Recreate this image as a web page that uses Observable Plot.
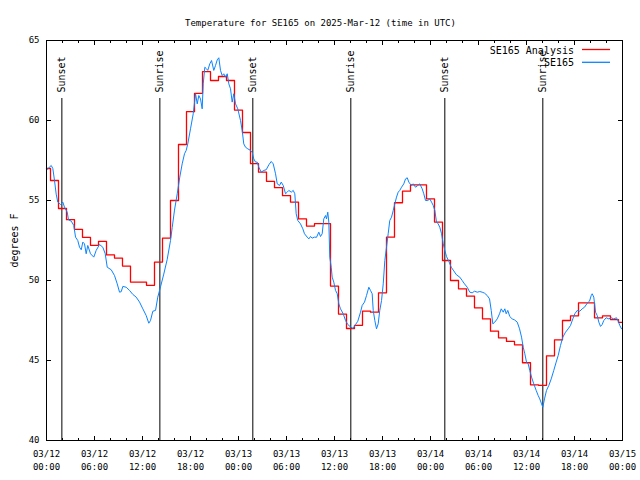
<!DOCTYPE html>
<html><head><meta charset="utf-8">
<script src="https://cdn.jsdelivr.net/npm/d3@7"></script>
<script src="https://cdn.jsdelivr.net/npm/@observablehq/plot@0.6"></script>
<style>body{margin:0;background:#fff} #chart{width:640px;height:480px}</style>
</head><body><div id="chart"></div>
<script>
const title = "Temperature for SE165 on 2025-Mar-12 (time in UTC)";
const yLabel = "degrees F";
const seriesNames = ["SE165 Analysis", "SE165"];
const seriesColors = ["#ff0000", "#0a84ff"];
const startUTC = Date.UTC(2025, 2, 12, 0, 0);
const spanHours = 72;
const yTicks = [40, 45, 50, 55, 60, 65];
const majorTickHours = [0, 6, 12, 18, 24, 30, 36, 42, 48, 54, 60, 66, 72];
const minorTickHours = [2, 4, 8, 10, 14, 16, 20, 22, 26, 28, 32, 34, 38, 40, 44, 46, 50, 52, 56, 58, 62, 64, 68, 70];

const sunLabels = ["Sunset", "Sunrise", "Sunset", "Sunrise", "Sunset", "Sunrise"];
const sunHours = [1.92, 14.17, 25.79, 38.04, 49.79, 62.04];

// Hourly analysis (step) values, 03/12 00:00 .. 03/15 00:00
const analysisTemps = [57.0, 56.25, 54.5, 53.8, 53.2, 52.7, 52.2, 52.45, 51.6, 51.4,
  50.9, 49.9, 49.9, 49.7, 51.15, 52.65, 55.0, 58.5, 60.55, 61.7,
  63.05, 62.5, 62.75, 62.5, 60.65, 59.25, 57.3, 56.77, 56.2, 55.8,
  55.3, 54.9, 53.85, 53.4, 53.55, 53.55, 49.65, 47.9, 47.0, 47.2,
  48.08, 48.02, 49.23, 52.71, 54.86, 55.58, 55.98, 55.98, 55.1, 53.65,
  51.25, 50.0, 49.48, 49.02, 48.29, 47.6, 46.83, 46.42, 46.19, 45.98,
  44.86, 43.48, 43.45, 45.29, 46.29, 47.5, 47.79, 48.6, 48.6, 47.67,
  47.79, 47.56, 47.38];

// Observations: hours since 03/12 00:00 UTC and temperature
const obsHours = [0.0,0.59,0.79,1.0,1.21,1.41,1.75,2.04,2.25,2.59,2.75,3.09,3.41,3.63,3.91,4.13,4.34,4.54,4.75,4.96,5.16,5.5,5.91,6.21,6.63,7.04,7.34,7.59,8.09,8.5,8.84,9.13,9.34,9.54,9.96,10.38,10.79,11.21,11.63,12.04,12.46,12.79,13.0,13.29,13.63,13.91,14.25,14.66,15.08,15.5,15.71,16.0,16.34,16.66,16.96,17.25,17.46,17.66,18.0,18.34,18.63,18.84,19.04,19.25,19.46,19.59,19.79,20.0,20.16,20.41,20.63,20.91,21.13,21.34,21.54,21.75,21.96,22.16,22.38,22.59,22.79,23.0,23.21,23.41,23.63,23.91,24.25,24.46,24.66,24.88,25.16,25.5,25.71,25.91,26.13,26.34,26.54,26.84,27.16,27.46,27.79,28.09,28.34,28.63,28.84,29.13,29.34,29.59,29.88,30.09,30.29,30.59,30.84,31.04,31.21,31.41,31.75,32.04,32.25,32.59,32.79,33.0,33.21,33.5,33.75,34.04,34.25,34.46,34.66,34.88,35.0,35.16,35.29,35.41,35.59,35.71,35.91,36.13,36.34,36.54,36.75,37.09,37.38,37.66,38.0,38.31,38.63,38.91,39.25,39.46,39.75,40.0,40.29,40.5,40.71,40.84,41.04,41.25,41.46,41.66,41.88,42.09,42.29,42.5,42.71,42.91,43.13,43.34,43.54,43.75,43.96,44.16,44.38,44.66,44.88,45.09,45.29,45.59,45.84,46.13,46.41,46.66,46.96,47.16,47.38,47.66,47.91,48.13,48.34,48.54,48.75,48.96,49.16,49.38,49.59,49.79,50.0,50.29,50.59,50.91,51.25,51.66,51.96,52.25,52.59,52.91,53.21,53.5,53.84,54.16,54.46,54.75,55.09,55.38,55.59,55.79,56.04,56.34,56.63,56.84,57.09,57.29,57.46,57.66,57.91,58.21,58.5,58.84,59.13,59.38,59.59,59.79,60.0,60.21,60.41,60.63,60.91,61.21,61.46,61.66,61.88,62.04,62.25,62.5,62.79,63.09,63.41,63.71,63.96,64.25,64.54,64.88,65.21,65.5,65.79,66.04,66.34,66.66,66.96,67.25,67.59,67.88,68.09,68.21,68.41,68.63,68.84,69.04,69.25,69.46,69.66,69.96,70.29,70.59,70.91,71.25,71.46,71.66,71.88];
const obsTemps = [56.9,57.19,57.0,56.25,55.4,54.9,54.75,54.9,54.58,54.27,53.79,53.71,53.44,52.71,52.5,52.08,51.92,52.4,52.29,51.67,52.19,51.67,51.46,51.88,52.25,52.08,51.67,50.83,50.67,50.31,49.79,49.27,49.3,49.63,49.58,49.38,49.13,48.96,48.65,48.23,47.81,47.33,47.5,48.08,48.13,48.96,49.6,50.4,51.3,52.5,53.3,54.4,55.42,56.46,57.29,57.92,58.13,58.54,59.48,60.42,61.67,61.04,61.56,61.35,60.73,62.29,63.33,63.23,63.13,63.54,63.75,63.13,63.44,63.79,63.92,63.13,62.81,62.92,62.71,62.92,62.29,61.98,61.15,61.67,61.04,60.73,60.0,59.38,58.54,58.33,58.23,58.13,58.0,57.6,57.4,57.4,57.08,56.77,56.88,56.92,57.23,57.44,57.29,56.67,56.04,55.94,56.15,55.94,55.42,55.52,55.63,55.52,55.63,55.42,54.17,53.75,53.54,53.23,52.92,52.71,52.6,52.75,52.65,52.71,52.7,53.02,52.75,52.92,53.85,54.06,53.85,54.27,53.65,51.46,50.83,50.21,49.9,49.38,49.17,48.54,48.23,47.92,47.5,47.25,47.1,47.0,47.25,47.45,48.02,48.44,48.65,49.06,49.58,49.38,49.17,48.13,47.5,46.98,47.29,48.13,48.75,49.79,51.25,52.08,52.92,53.75,53.96,54.38,54.79,55.21,55.52,55.63,55.83,56.04,56.35,56.42,56.15,55.94,56.04,55.83,55.94,56.04,55.73,55.42,55.0,55.0,55.1,54.9,54.69,54.38,53.65,53.54,53.33,52.92,52.29,51.88,51.5,51.2,50.83,50.6,50.35,50.21,50.0,49.79,49.58,49.27,49.23,49.33,49.27,49.31,49.27,49.21,49.06,48.85,48.13,47.29,47.4,47.6,47.92,48.23,48.02,48.23,47.92,48.13,47.75,47.6,47.54,47.4,46.98,46.46,45.83,45.42,44.9,44.79,44.38,43.96,43.54,43.13,42.81,42.6,42.29,42.08,42.6,43.13,43.44,43.85,44.38,44.9,45.31,45.94,46.46,46.77,46.98,47.19,47.6,47.92,48.13,48.08,48.23,48.33,48.58,48.71,49.06,49.17,48.96,48.02,47.81,47.4,47.13,47.25,47.5,47.67,47.6,47.67,47.6,47.67,47.46,47.19,46.98];

const toDate = h => new Date(startUTC + h * 3600e3);
const analysis = analysisTemps.map((t, i) => ({date: toDate(i), temp: t}));
const obs = obsHours.map((h, i) => ({date: toDate(h), temp: obsTemps[i]}));
const sun = sunHours.map((h, i) => ({date: toDate(h), label: sunLabels[i]}));
const majorTicks = majorTickHours.map(toDate);
const minorTicks = minorTickHours.map(toDate);
const fmt = d3.utcFormat("%m/%d\n%H:%M");
const font = "'DejaVu Sans Mono', monospace";

const chart = Plot.plot({
  width: 640, height: 480,
  marginLeft: 46, marginRight: 18, marginTop: 40, marginBottom: 40,
  style: {fontFamily: font, fontSize: "9px", background: "#fff", color: "#000", overflow: "visible"},
  x: {type: "utc", domain: [toDate(0), toDate(spanHours)]},
  y: {domain: [40, 65]},
  marks: [
    Plot.ruleX(sun, {x: "date", insetTop: 58, stroke: "#000", strokeWidth: 1}),
    Plot.text(sun, {x: "date", text: "label", frameAnchor: "top", dy: 52, rotate: -90, textAnchor: "start", lineAnchor: "middle", fontSize: 10}),
    Plot.line(analysis, {x: "date", y: "temp", curve: "step", stroke: seriesColors[0], strokeWidth: 1.3}),
    Plot.line(obs, {x: "date", y: "temp", stroke: seriesColors[1], strokeWidth: 1}),
    Plot.frame({stroke: "#000"}),
    // x ticks (inward, both sides)
    Plot.axisX({anchor: "bottom", ticks: majorTicks, tickSize: -4, tickFormat: () => "", label: null}),
    Plot.axisX({anchor: "top", ticks: majorTicks, tickSize: -4, tickFormat: () => "", label: null}),
    Plot.axisX({anchor: "bottom", ticks: minorTicks, tickSize: -2, tickFormat: () => "", label: null}),
    Plot.axisX({anchor: "top", ticks: minorTicks, tickSize: -2, tickFormat: () => "", label: null}),
    Plot.axisX({anchor: "bottom", ticks: majorTicks, tickSize: 0, tickPadding: 7, tickFormat: fmt, lineHeight: 1.45, label: null}),
    // y ticks
    Plot.axisY({anchor: "left", ticks: yTicks, tickSize: -5, tickFormat: () => "", label: null}),
    Plot.axisY({anchor: "right", ticks: yTicks, tickSize: -5, tickFormat: () => "", label: null}),
    Plot.axisY({anchor: "left", ticks: yTicks, tickSize: 0, tickPadding: 7, label: null}),
    Plot.axisY({anchor: "left", ticks: [], label: yLabel, labelAnchor: "center", labelOffset: 36, labelArrow: "none", fontSize: 10}),
    Plot.text([title], {frameAnchor: "top", dx: -14, dy: -21, fontSize: 9})
  ]
});
document.getElementById("chart").appendChild(chart);

// legend (inside top-right)
const svg = d3.select(chart);
const lg = svg.append("g").attr("font-family", font).attr("font-size", 10);
seriesNames.forEach((name, i) => {
  const y = 50 + i * 12.8;
  lg.append("text").attr("x", 574).attr("y", y).attr("dy", "0.35em").attr("text-anchor", "end").attr("fill", "#000").text(name);
  lg.append("line").attr("x1", 582).attr("x2", 610).attr("y1", y - 0.5).attr("y2", y - 0.5).attr("stroke", seriesColors[i]).attr("stroke-width", 1.3);
});
</script>
</body></html>
